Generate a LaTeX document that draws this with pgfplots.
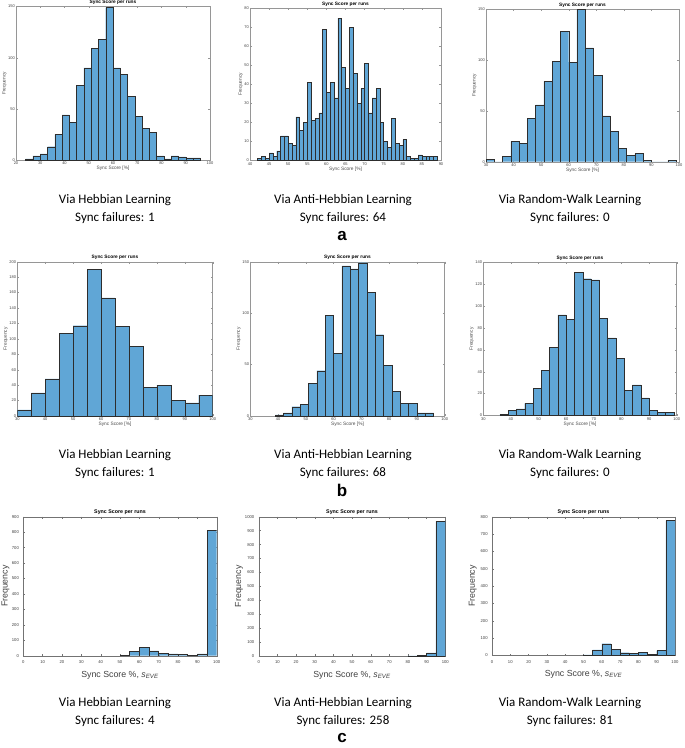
\documentclass[border=0pt]{standalone}
\usepackage{pgfplots}
\pgfplotsset{compat=1.18}
\usepackage{fontspec}
\setmainfont{Liberation Sans}
\newfontfamily\capfont{Carlito}
\definecolor{barblue}{RGB}{96,166,214}
\definecolor{edgec}{RGB}{45,45,45}
\definecolor{axc}{RGB}{150,150,150}
\pgfplotsset{
  hist/.style={scale only axis, anchor=north west, ymin=0,
    axis line style={axc, line width=0.4pt},
    tick align=inside, major tick length=1.8pt,
    tick style={axc, line width=0.3pt},
    /pgf/number format/assume math mode=true,
    /pgf/number format/1000 sep={},
    ticklabel style={font=\fontsize{4}{4.5}\selectfont, text=black!75, inner sep=1pt},
    xticklabel style={yshift=-0.8pt},
    every axis title shift=1.2pt,
    title={Sync Score per runs},
    title style={font=\bfseries\fontsize{4.8}{5}\selectfont, inner sep=0.4pt},
    xlabel={Sync Score [\%]}, ylabel={Frequency},
    label style={font=\fontsize{4.8}{5}\selectfont, text=black!70},
    xlabel style={inner sep=0.3pt}, ylabel style={inner sep=0.3pt}},
  histc/.style={scale only axis, anchor=north west, ymin=0, xmin=0, xmax=100,
    xtick={0,10,...,100},
    axis line style={black!55, line width=0.4pt},
    tick align=inside, major tick length=1.8pt,
    tick style={black!55, line width=0.3pt},
    /pgf/number format/assume math mode=true,
    /pgf/number format/1000 sep={},
    ticklabel style={font=\fontsize{4.2}{4.5}\selectfont, text=black!75, inner sep=1.2pt},
    xticklabel style={yshift=-3.5pt}, yticklabel style={xshift=-3pt},
    every axis title shift=1.8pt,
    title={Sync Score per runs},
    title style={font=\bfseries\fontsize{5.3}{5.8}\selectfont, inner sep=0.5pt},
    xlabel={Sync Score \%, \textit{s}\textsubscript{\textit{EVE}}}, ylabel={Frequency},
    label style={font=\fontsize{8.8}{10}\selectfont, text=black!75},
    xlabel style={inner sep=1pt, yshift=-5pt},
    ylabel style={inner sep=0pt, anchor=center}},
  bars/.style={ybar interval, fill=barblue, draw=edgec, line width=0.4pt}
}
\begin{document}
\begin{tikzpicture}
\path[use as bounding box] (0pt,0pt) rectangle (685pt,-748pt);
% ---------------- row a ----------------
\begin{axis}[hist, at={(16pt,-6.5pt)}, width=194pt, height=153.5pt,
  xmin=20, xmax=100, ymax=150, xtick={20,30,...,100}, ytick={0,50,100,150}]
\addplot[bars] coordinates {(24,1) (27,4) (30,6) (33,13) (36,25) (39,44) (42,37) (45,73) (48,90) (51,109) (54,118) (57,149) (60,90) (63,84) (66,62) (69,43) (72,31) (75,27) (78,4) (81,1) (84,4) (87,3) (90,2) (93,2) (96,0)};
\end{axis}
\begin{axis}[hist, at={(250pt,-8.5pt)}, width=191pt, height=152pt,
  xmin=40, xmax=90, ymax=80, xtick={40,45,...,90}, ytick={0,10,...,80}]
\addplot[bars] coordinates {(42,1) (43,2) (44,1) (45,4) (46,2) (47,5) (48,13) (49,13) (50,9) (51,8) (52,23) (53,16) (54,20) (55,41) (56,21) (57,22) (58,25) (59,69) (60,36) (61,41) (62,33) (63,75) (64,49) (65,38) (66,70) (67,46) (68,30) (69,38) (70,51) (71,25) (72,33) (73,38) (74,20) (75,10) (76,7) (77,22) (78,9) (79,8) (80,11) (81,2) (82,1) (83,1) (84,3) (85,2) (86,2) (87,2) (88,2) (89,0)};
\end{axis}
\begin{axis}[hist, at={(486pt,-9.3pt)}, width=193pt, height=152.4pt,
  xmin=30, xmax=100, ymax=150, xtick={30,40,...,100}, ytick={0,50,100,150}]
\addplot[bars] coordinates {(30,2) (33,0) (36,5) (39,20) (42,18) (45,43) (48,56) (51,79) (54,99) (57,128) (60,98) (63,150) (66,112) (69,85) (72,45) (75,30) (78,13) (81,6) (84,8) (87,1) (90,0) (93,0) (96,1) (99,0)};
\end{axis}
% ---------------- row b ----------------
\begin{axis}[hist, at={(17.3pt,-261.7pt)}, width=195.4pt, height=154.3pt,
  xmin=30, xmax=100, ymax=200, xtick={30,40,...,100}, ytick={0,20,...,200}]
\addplot[bars] coordinates {(30,8) (35,30) (40,48) (45,107) (50,117) (55,190) (60,153) (65,116) (70,90) (75,37) (80,40) (85,20) (90,17) (95,27) (100,0)};
\end{axis}
\begin{axis}[hist, at={(250.3pt,-261.7pt)}, width=194.4pt, height=154.3pt,
  xmin=30, xmax=100, ymax=150, xtick={30,40,...,100}, ytick={0,50,100,150}]
\addplot[bars] coordinates {(39,1) (42,3) (45,9) (48,11) (51,32) (54,44) (57,98) (60,61) (63,146) (66,143) (69,149) (72,120) (75,79) (78,49) (81,24) (84,12) (87,12) (90,3) (93,3) (96,0)};
\end{axis}
\begin{axis}[hist, at={(483.3pt,-262.3pt)}, width=193.4pt, height=153.2pt,
  xmin=30, xmax=100, ymax=140, xtick={30,40,...,100}, ytick={0,20,...,140}]
\addplot[bars] coordinates {(36,1) (39,5) (42,6) (45,11) (48,25) (51,41) (54,62) (57,92) (60,88) (63,131) (66,125) (69,124) (72,89) (75,71) (78,52) (81,23) (84,28) (87,16) (90,5) (93,3) (96,3) (99,0)};
\end{axis}
% ---------------- row c ----------------
\begin{axis}[histc, at={(23.3pt,-516.7pt)}, width=193.4pt, height=139pt,
  ymax=900, ytick={0,100,...,900},
  ylabel style={at={(axis description cs:-0.092,0.5)}}]
\addplot[bars] coordinates {(50,4) (55,27) (60,52) (65,32) (70,15) (75,12) (80,7) (85,4) (90,12) (95,812) (100,0)};
\end{axis}
\begin{axis}[histc, at={(258.7pt,-516.7pt)}, width=186.6pt, height=139.3pt,
  ymax=1000, ytick={0,100,...,1000},
  ylabel style={at={(axis description cs:-0.105,0.5)}}]
\addplot[bars] coordinates {(80,1) (85,6) (90,22) (95,966) (100,0)};
\end{axis}
\begin{axis}[histc, at={(492pt,-516.7pt)}, width=183pt, height=138.6pt,
  ymax=800, ytick={0,100,...,800},
  ylabel style={at={(axis description cs:-0.105,0.5)}}]
\addplot[bars] coordinates {(50,3) (55,31) (60,67) (65,33) (70,15) (75,10) (80,19) (85,6) (90,27) (95,777) (100,0)};
\end{axis}
% ---------------- captions ----------------
\begin{scope}[every node/.style={font=\capfont\fontsize{13}{15}\selectfont, inner sep=0pt, anchor=center}]
\foreach \yy/\ya/\fa/\fb/\fc in {200/218/1/64/0, 455/473/1/68/0, 703/721/4/258/81}{
  \node at (115pt,-\yy pt) {Via Hebbian Learning};
  \node at (115pt,-\ya pt) {Sync failures: \fa};
  \node at (343pt,-\yy pt) {Via Anti-Hebbian Learning};
  \node at (343pt,-\ya pt) {Sync failures: \fb};
  \node at (570pt,-\yy pt) {Via Random-Walk Learning};
  \node at (570pt,-\ya pt) {Sync failures: \fc};
}
\end{scope}
\begin{scope}[every node/.style={font=\bfseries\fontsize{17}{19}\selectfont, inner sep=0pt, anchor=center}]
\node at (342pt,-236pt) {a};
\node at (342pt,-490pt) {b};
\node at (342pt,-738pt) {c};
\end{scope}
\end{tikzpicture}
\end{document}
